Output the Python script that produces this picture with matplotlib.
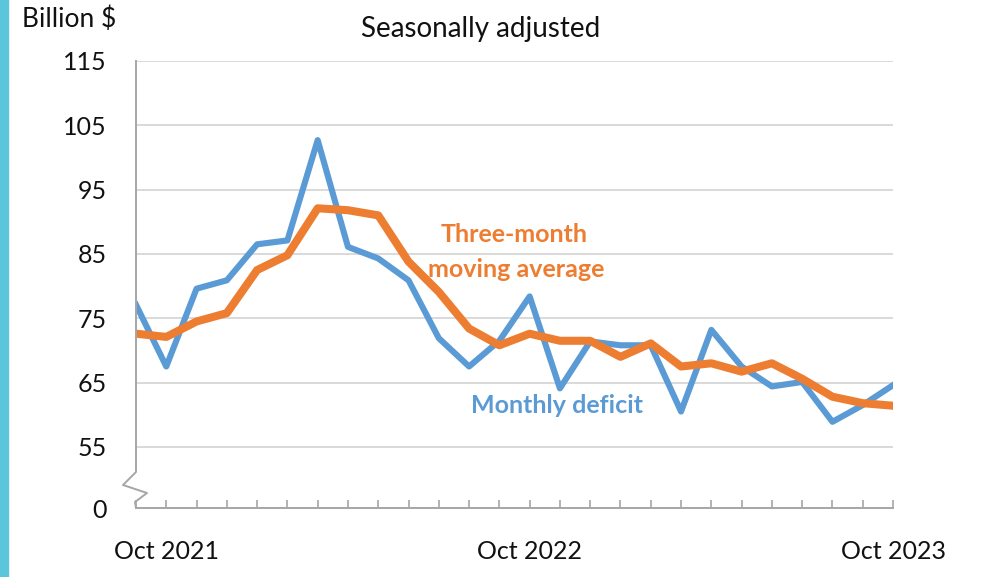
import matplotlib.pyplot as plt
from matplotlib.lines import Line2D
from matplotlib.patches import Rectangle

plt.rcParams['font.family'] = ['Lato', 'DejaVu Sans']

# Sep 2021 .. Oct 2023, billion $
months = ['Sep 2021', 'Oct 2021', 'Nov 2021', 'Dec 2021', 'Jan 2022', 'Feb 2022',
          'Mar 2022', 'Apr 2022', 'May 2022', 'Jun 2022', 'Jul 2022', 'Aug 2022',
          'Sep 2022', 'Oct 2022', 'Nov 2022', 'Dec 2022', 'Jan 2023', 'Feb 2023',
          'Mar 2023', 'Apr 2023', 'May 2023', 'Jun 2023', 'Jul 2023', 'Aug 2023',
          'Sep 2023', 'Oct 2023']
monthly = [77.1, 67.5, 79.6, 80.9, 86.5, 87.1, 102.7, 86.1, 84.3, 80.9, 71.9, 67.5,
           71.5, 78.4, 64.1, 71.4, 70.8, 70.8, 60.5, 73.2, 67.5, 64.4, 65.1, 58.9,
           61.5, 64.6]
moving_avg = [72.6, 72.1, 74.5, 75.8, 82.5, 84.8, 92.1, 91.8, 91.0, 83.8, 79.1, 73.4,
              70.8, 72.6, 71.5, 71.5, 69.0, 71.1, 67.5, 68.0, 66.7, 68.0, 65.6, 62.8,
              61.8, 61.4]
shown_months = ['Oct 2021', 'Oct 2022', 'Oct 2023']
yticks = [55, 65, 75, 85, 95, 105, 115]

blue = '#5B9BD5'
orange = '#ED7D31'
axis_grey = '#A6A6A6'

fig = plt.figure(figsize=(9.99, 5.77), dpi=100)
fig.patches.append(Rectangle((0, 0), 8 / 999, 1, transform=fig.transFigure,
                             color='#5BC5DB', zorder=0))

ax = fig.add_axes([136 / 999, 69 / 577, 757 / 999, 447 / 577])
x = list(range(len(months)))

ax.plot(x, monthly, color=blue, lw=4.4, zorder=3)
ax.plot(x, moving_avg, color=orange, lw=5.8, zorder=4)

# broken scale: the "0" sits one step below 55
zero_pos = 45.5
ax.set_ylim(zero_pos, 115)
ax.set_xlim(0, len(months) - 1)
ax.set_yticks([zero_pos] + yticks)
ax.set_yticklabels(['0'] + [str(v) for v in yticks])
ax.grid(axis='y', color='#D9D9D9', lw=1.4)
ax.set_axisbelow(True)
ax.tick_params(axis='y', length=0, pad=21, labelsize=18, labelcolor='#111111')

ax.set_xticks(x)
ax.set_xticklabels([m if m in shown_months else '' for m in months])
ax.tick_params(axis='x', direction='in', length=6, width=1.2, color=axis_grey,
               pad=23, labelsize=18, labelcolor='#111111')

for s in ['top', 'right', 'left']:
    ax.spines[s].set_visible(False)
ax.spines['bottom'].set_color(axis_grey)
ax.spines['bottom'].set_linewidth(1.4)

# left axis with zigzag break
w, h = 757.0, 447.0
px = [0, 0, -13, 11, -1, 0]
py = [447, 36, 23, 15, 6, 0]
ax.add_line(Line2D([p / w for p in px], [q / h for q in py], transform=ax.transAxes,
                   color=axis_grey, lw=1.4, clip_on=False, zorder=5))

fig.text(22 / 999, 1 - 27 / 577, 'Billion $', fontsize=19, color='#111111')
fig.text(481 / 999, 1 - 37 / 577, 'Seasonally adjusted', fontsize=20,
         color='#111111', ha='center')

ax.text(12.5, 86.9, 'Three-month', color=orange, fontsize=18, fontweight='bold',
        ha='center')
ax.text(12.55, 81.4, 'moving average', color=orange, fontsize=18, fontweight='bold',
        ha='center')
ax.text(13.9, 60.3, 'Monthly deficit', color=blue, fontsize=18, fontweight='bold',
        ha='center')

fig.savefig('out.png', dpi=100)
